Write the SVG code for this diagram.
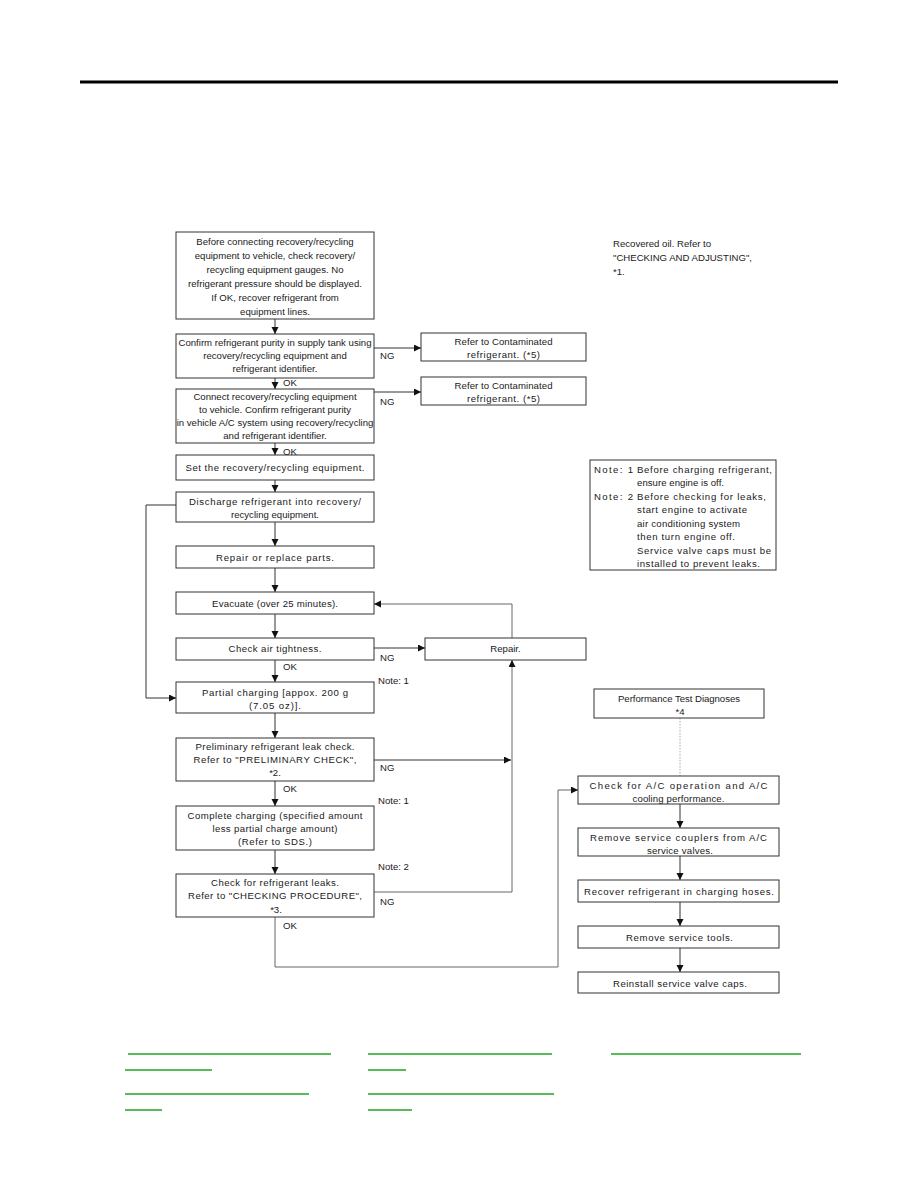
<svg xmlns="http://www.w3.org/2000/svg" width="918" height="1188" viewBox="0 0 918 1188">
<style>
text{font-family:"Liberation Sans",Arial,sans-serif;font-size:9.6px;fill:#1a1a1a}
.c{text-anchor:middle}
rect{fill:#fff;stroke:#333;stroke-width:1}
.ln{fill:none;stroke:#333;stroke-width:1}
.lg{fill:none;stroke:#666;stroke-width:1}
.ar{marker-end:url(#ah)}
.dot{fill:none;stroke:#aaa;stroke-width:1;stroke-dasharray:1.5 1.5}
.g{stroke:#1fa21f;stroke-width:1.3}
</style>
<defs>
<marker id="ah" markerUnits="userSpaceOnUse" markerWidth="8" markerHeight="8" refX="7" refY="3.5" orient="auto">
<path d="M0,0 L7,3.5 L0,7 z" fill="#111"/>
</marker>
</defs>
<line x1="80" y1="82" x2="838" y2="82" stroke="#000" stroke-width="3"/>

<g id="connectors">
<line class="ln ar" x1="275" y1="319" x2="275" y2="334"/>
<line class="ln ar" x1="374" y1="348" x2="421" y2="348"/>
<line class="ln ar" x1="275" y1="378" x2="275" y2="389"/>
<line class="ln ar" x1="374" y1="392" x2="421" y2="392"/>
<line class="ln ar" x1="275" y1="443" x2="275" y2="455"/>
<line class="ln ar" x1="275" y1="480" x2="275" y2="492"/>
<line class="ln ar" x1="275" y1="522" x2="275" y2="546"/>
<line class="ln ar" x1="275" y1="568" x2="275" y2="592"/>
<line class="ln ar" x1="275" y1="614" x2="275" y2="638"/>
<line class="ln ar" x1="374" y1="648" x2="425" y2="648"/>
<polyline class="lg ar" points="512,638 512,604 374,604"/>
<line class="ln ar" x1="275" y1="660" x2="275" y2="682"/>
<polyline class="ln ar" points="176,505 146,505 146,698 176,698"/>
<line class="ln ar" x1="275" y1="713" x2="275" y2="738"/>
<line class="ln ar" x1="374" y1="760" x2="511" y2="760"/>
<polyline class="lg ar" points="374,892 512,892 512,660"/>
<line class="ln ar" x1="275" y1="781" x2="275" y2="806"/>
<line class="ln ar" x1="275" y1="850" x2="275" y2="874"/>
<polyline class="lg ar" points="275,917 275,967 558,967 558,790 578,790"/>
<line class="dot" x1="680" y1="718" x2="680" y2="776"/>
<line class="ln ar" x1="680" y1="804" x2="680" y2="828"/>
<line class="ln ar" x1="680" y1="856" x2="680" y2="880"/>
<line class="ln ar" x1="680" y1="902" x2="680" y2="926"/>
<line class="ln ar" x1="680" y1="948" x2="680" y2="972"/>
</g>

<g id="labels">
<text x="380" y="359">NG</text>
<text x="380" y="405">NG</text>
<text x="380" y="661">NG</text>
<text x="380" y="771">NG</text>
<text x="380" y="905">NG</text>
<text x="283" y="385.5">OK</text>
<text x="283" y="454.5">OK</text>
<text x="283" y="669.5">OK</text>
<text x="283" y="791.5">OK</text>
<text x="283" y="928.5">OK</text>
<text x="378" y="683.5">Note: 1</text>
<text x="378" y="803.5">Note: 1</text>
<text x="378" y="869.5">Note: 2</text>
</g>

<g id="n1">
<rect x="176" y="232" width="198" height="87"/>
<text class="c" x="275" y="245">Before connecting recovery/recycling</text>
<text class="c" x="275" y="259">equipment to vehicle, check recovery/</text>
<text class="c" x="275" y="273">recycling equipment gauges. No</text>
<text class="c" x="275" y="287">refrigerant pressure should be displayed.</text>
<text class="c" x="275" y="301">If OK, recover refrigerant from</text>
<text class="c" x="275" y="315">equipment lines.</text>
</g>
<g id="n2">
<rect x="176" y="334" width="198" height="44"/>
<text class="c" x="275" y="345.5">Confirm refrigerant purity in supply tank using</text>
<text class="c" x="275" y="358.5">recovery/recycling equipment and</text>
<text class="c" x="275" y="371.5">refrigerant identifier.</text>
</g>
<g id="nA">
<rect x="421" y="333" width="165" height="28"/>
<text class="c" x="503.5" y="344.5" textLength="98" lengthAdjust="spacing">Refer to Contaminated</text>
<text class="c" x="503.5" y="358" textLength="73" lengthAdjust="spacing">refrigerant. (*5)</text>
</g>
<g id="n3">
<rect x="176" y="389" width="198" height="54"/>
<text class="c" x="275" y="400">Connect recovery/recycling equipment</text>
<text class="c" x="275" y="413">to vehicle. Confirm refrigerant purity</text>
<text class="c" x="275" y="425.5">in vehicle A/C system using recovery/recycling</text>
<text class="c" x="275" y="438.5">and refrigerant identifier.</text>
</g>
<g id="nB">
<rect x="421" y="377" width="165" height="28"/>
<text class="c" x="503.5" y="388.5" textLength="98" lengthAdjust="spacing">Refer to Contaminated</text>
<text class="c" x="503.5" y="401.5" textLength="73" lengthAdjust="spacing">refrigerant. (*5)</text>
</g>
<g id="n4">
<rect x="176" y="455" width="198" height="25"/>
<text class="c" x="275" y="470.5" textLength="179" lengthAdjust="spacing">Set the recovery/recycling equipment.</text>
</g>
<g id="n5">
<rect x="176" y="492" width="198" height="30"/>
<text class="c" x="275" y="504.5" textLength="172" lengthAdjust="spacing">Discharge refrigerant into recovery/</text>
<text class="c" x="275" y="517.5" textLength="88" lengthAdjust="spacing">recycling equipment.</text>
</g>
<g id="n6">
<rect x="176" y="546" width="198" height="22"/>
<text class="c" x="275" y="560.5" textLength="118" lengthAdjust="spacing">Repair or replace parts.</text>
</g>
<g id="n7">
<rect x="176" y="592" width="198" height="22"/>
<text class="c" x="275" y="606.5" textLength="126" lengthAdjust="spacing">Evacuate (over 25 minutes).</text>
</g>
<g id="n8">
<rect x="176" y="638" width="198" height="22"/>
<text class="c" x="275" y="652" textLength="93" lengthAdjust="spacing">Check air tightness.</text>
</g>
<g id="nRepair">
<rect x="425" y="638" width="161" height="22"/>
<text class="c" x="505.5" y="652">Repair.</text>
</g>
<g id="n9">
<rect x="176" y="682" width="198" height="31"/>
<text class="c" x="275" y="695.5" textLength="146" lengthAdjust="spacing">Partial charging [appox. 200 g</text>
<text class="c" x="275" y="708.5" textLength="52" lengthAdjust="spacing">(7.05 oz)].</text>
</g>
<g id="n10">
<rect x="176" y="738" width="198" height="43"/>
<text class="c" x="275" y="749.5" textLength="159" lengthAdjust="spacing">Preliminary refrigerant leak check.</text>
<text class="c" x="275" y="762.5" textLength="163" lengthAdjust="spacing">Refer to "PRELIMINARY CHECK",</text>
<text class="c" x="275" y="775.5">*2.</text>
</g>
<g id="n11">
<rect x="176" y="806" width="198" height="44"/>
<text class="c" x="275" y="818.5" textLength="175" lengthAdjust="spacing">Complete charging (specified amount</text>
<text class="c" x="275" y="831.5" textLength="125" lengthAdjust="spacing">less partial charge amount)</text>
<text class="c" x="275" y="845" textLength="74" lengthAdjust="spacing">(Refer to SDS.)</text>
</g>
<g id="n12">
<rect x="176" y="874" width="198" height="43"/>
<text class="c" x="275" y="885.5" textLength="128" lengthAdjust="spacing">Check for refrigerant leaks.</text>
<text class="c" x="275" y="899" textLength="174" lengthAdjust="spacing">Refer to "CHECKING PROCEDURE",</text>
<text class="c" x="276" y="912.5">*3.</text>
</g>

<g id="oilNote">
<text x="613" y="246.5">Recovered oil. Refer to</text>
<text x="613" y="260.5">"CHECKING AND ADJUSTING",</text>
<text x="613" y="274.5">*1.</text>
</g>
<g id="notes">
<rect x="590" y="460" width="186" height="110"/>
<text x="594" y="472.5" textLength="39" lengthAdjust="spacing">Note: 1</text>
<text x="637" y="472.5" textLength="135" lengthAdjust="spacing">Before charging refrigerant,</text>
<text x="637" y="486" textLength="87" lengthAdjust="spacing">ensure engine is off.</text>
<text x="594" y="499.5" textLength="39" lengthAdjust="spacing">Note: 2</text>
<text x="637" y="499.5" textLength="129" lengthAdjust="spacing">Before checking for leaks,</text>
<text x="637" y="513" textLength="110" lengthAdjust="spacing">start engine to activate</text>
<text x="637" y="526.5" textLength="103" lengthAdjust="spacing">air conditioning system</text>
<text x="637" y="540" textLength="98" lengthAdjust="spacing">then turn engine off.</text>
<text x="637" y="553.5" textLength="134" lengthAdjust="spacing">Service valve caps must be</text>
<text x="637" y="567" textLength="123" lengthAdjust="spacing">installed to prevent leaks.</text>
</g>
<g id="perf">
<rect x="594" y="689" width="170" height="29"/>
<text class="c" x="679" y="701.5" textLength="122" lengthAdjust="spacing">Performance Test Diagnoses</text>
<text class="c" x="680" y="714.5">*4</text>
</g>
<g id="r1">
<rect x="578" y="776" width="201" height="28"/>
<text class="c" x="678.5" y="788.5" textLength="178" lengthAdjust="spacing">Check for A/C operation and A/C</text>
<text class="c" x="678.5" y="801.5" textLength="92" lengthAdjust="spacing">cooling performance.</text>
</g>
<g id="r2">
<rect x="578" y="828" width="201" height="28"/>
<text class="c" x="678.5" y="840.5" textLength="177" lengthAdjust="spacing">Remove service couplers from A/C</text>
<text class="c" x="680" y="853.5" textLength="66" lengthAdjust="spacing">service valves.</text>
</g>
<g id="r3">
<rect x="578" y="880" width="201" height="22"/>
<text class="c" x="679" y="894.5" textLength="190" lengthAdjust="spacing">Recover refrigerant in charging hoses.</text>
</g>
<g id="r4">
<rect x="578" y="926" width="201" height="22"/>
<text class="c" x="679.5" y="940.5" textLength="107" lengthAdjust="spacing">Remove service tools.</text>
</g>
<g id="r5">
<rect x="578" y="972" width="201" height="21"/>
<text class="c" x="680" y="986.5" textLength="134" lengthAdjust="spacing">Reinstall service valve caps.</text>
</g>

<g id="links">
<line class="g" x1="128" y1="1054" x2="331" y2="1054"/>
<line class="g" x1="368" y1="1054" x2="552" y2="1054"/>
<line class="g" x1="611" y1="1054" x2="801" y2="1054"/>
<line class="g" x1="125" y1="1070" x2="212" y2="1070"/>
<line class="g" x1="368" y1="1070" x2="406" y2="1070"/>
<line class="g" x1="125" y1="1094" x2="309" y2="1094"/>
<line class="g" x1="368" y1="1094" x2="554" y2="1094"/>
<line class="g" x1="125" y1="1110" x2="162" y2="1110"/>
<line class="g" x1="368" y1="1110" x2="412" y2="1110"/>
</g>
</svg>
